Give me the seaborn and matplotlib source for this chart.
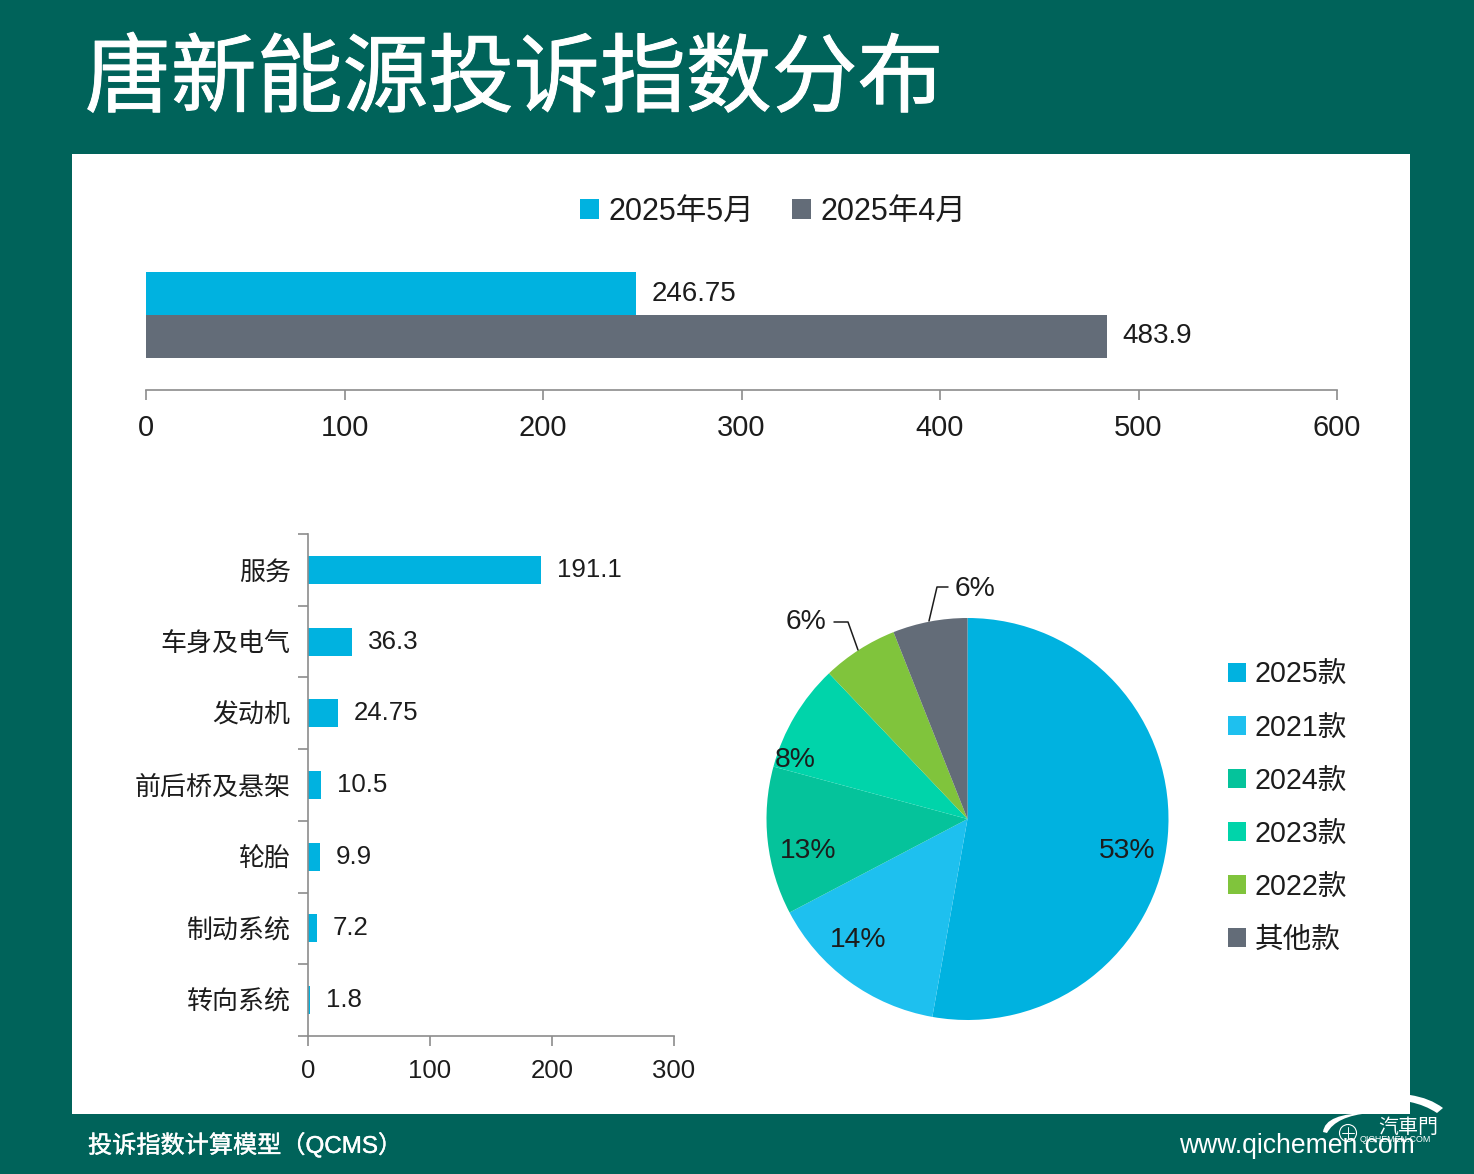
""" Tang NEV complaint index slide."""
import matplotlib.pyplot as plt
import matplotlib.patches as mpatches
import matplotlib.patheffects as pe
from matplotlib.path import Path
import pandas as pd
import seaborn as sns

W, H = 1474, 1174

months = ["2025年5月", "2025年4月"]
month_values = [246.75, 483.9]

parts = ["服务", "车身及电气", "发动机", "前后桥及悬架", "轮胎", "制动系统", "转向系统"]
part_values = [191.1, 36.3, 24.75, 10.5, 9.9, 7.2, 1.8]

models = ["2025款", "2021款", "2024款", "2023款", "2022款", "其他款"]
model_shares = [52.8, 14.5, 11.9, 8.7, 6.1, 6.0]
model_labels = ["53%", "14%", "13%", "8%", "6%", "6%"]

top_ticks = [0, 100, 200, 300, 400, 500, 600]
part_ticks = [0, 100, 200, 300]

BG = "#00635a"
BLUE = "#00b2e0"
GRAY = "#636c78"
INK = "#1c1c1c"
AXIS = "#8c8c8c"
pie_colors = [BLUE, "#1ec0ef", "#05c39b", "#00d4aa", "#80c43c", GRAY]

sns.set_theme(style="white")
plt.rcParams['font.family'] = ['Liberation Sans', 'Noto Sans CJK SC', 'DejaVu Sans']
plt.rcParams['text.color'] = INK


def box(left, top, right, bottom):
    return [left / W, 1 - bottom / H, (right - left) / W, (bottom - top) / H]


def style_axis(ax):
    for s in ["top", "right"]:
        ax.spines[s].set_visible(False)
    for s in ["left", "bottom"]:
        ax.spines[s].set_color(AXIS)
        ax.spines[s].set_linewidth(1.2)
    ax.patch.set_alpha(0)
    ax.set_xlabel("")
    ax.set_ylabel("")


fig = plt.figure(figsize=(W / 100, H / 100), dpi=100, facecolor=BG)

# pixel space layers, back for the panel and front for labels and logo
back = fig.add_axes([0, 0, 1, 1], zorder=0)
front = fig.add_axes([0, 0, 1, 1], zorder=5)
for a in [back, front]:
    a.set_xlim(0, W)
    a.set_ylim(H, 0)
    a.axis("off")
back.add_patch(mpatches.Rectangle((72, 154), 1338, 960, color="white", lw=0))

title = front.text(85, 81, "唐新能源投诉指数分布", color="white", fontsize=61.8,
                   family=['Noto Sans CJK SC'], va="center", ha="left")
title.set_path_effects([pe.withStroke(linewidth=0.7, foreground="white")])

# monthly index
ax1 = fig.add_axes(box(146, 240, 1337, 390), zorder=1)
df_month = pd.DataFrame({"group": ["index", "index"], "month": months, "value": month_values})
sns.barplot(data=df_month, x="value", y="group", hue="month", palette=[BLUE, GRAY],
            saturation=1, width=0.8, legend=False, linewidth=0, ax=ax1)
ax1.set_xlim(0, 600)
ax1.set_ylim(0.698, -0.698)
ax1.set_xticks(top_ticks)
ax1.set_yticks([])
ax1.tick_params(axis="x", bottom=True, length=7.5, width=1.2, color=AXIS, labelsize=20.9, pad=10, labelcolor=INK)
style_axis(ax1)
ax1.spines["left"].set_visible(False)
for c in ax1.containers:
    ax1.bar_label(c, fmt="%g", padding=11.5, fontsize=20, color=INK)

handles = [mpatches.Patch(color=BLUE, lw=0, label=months[0]), mpatches.Patch(color=GRAY, lw=0, label=months[1])]
fig.legend(handles=handles, loc="center", bbox_to_anchor=(773 / W, 1 - 212 / H), ncol=2, frameon=False,
           fontsize=22, handlelength=0.62, handleheight=0.62, handletextpad=0.3, columnspacing=1.25)

# part breakdown
ax2 = fig.add_axes(box(308, 534, 674, 1036), zorder=1)
sns.barplot(x=part_values, y=parts, color=BLUE, saturation=1, width=0.39, linewidth=0, ax=ax2)
ax2.set_xlim(0, 300)
ax2.set_ylim(len(parts) - 0.5, -0.5)
ax2.set_xticks(part_ticks)
ax2.set_yticks([i - 0.5 for i in range(len(parts) + 1)], minor=True)
ax2.tick_params(axis="x", bottom=True, length=7.5, width=1.2, color=AXIS, labelsize=18.5, pad=9, labelcolor=INK)
ax2.tick_params(axis="y", which="major", left=False, labelsize=18.7, pad=6.5, labelcolor=INK)
ax2.tick_params(axis="y", which="minor", left=True, length=7.5, width=1.2, color=AXIS)
style_axis(ax2)
ax2.bar_label(ax2.containers[0], fmt="%g", padding=11.5, fontsize=18.6, color=INK)

# model share pie
ax3 = fig.add_axes(box(766.5, 618, 1168.5, 1020), zorder=1)
wedges, _ = ax3.pie(model_shares, colors=pie_colors, startangle=90, counterclock=False, radius=1,
                    wedgeprops={"linewidth": 0})
ax3.set_xlim(-1, 1)
ax3.set_ylim(-1, 1)
ax3.legend(wedges, models, loc="center left", bbox_to_anchor=((1228 - 766.5) / 402, (1020 - 807) / 402),
           frameon=False, fontsize=20.6, handlelength=0.63, handleheight=0.63, handletextpad=0.3,
           labelspacing=0.875, borderpad=0, borderaxespad=0)

label_pos = [(1127, 851), (858, 940), (808, 851), (795, 760), (806, 622), (975, 589)]
for (x, y), t in zip(label_pos, model_labels):
    front.text(x, y, t, fontsize=20.3, color=INK, ha="center", va="center")
front.plot([858, 848, 834], [650, 622, 622], color=INK, lw=1.1)
front.plot([929, 937, 948], [621, 587, 587], color=INK, lw=1.1)

# footer
foot = front.text(88, 1145, "投诉指数计算模型（QCMS）", color="white", fontsize=17.4,
                  va="center", ha="left")
foot.set_path_effects([pe.withStroke(linewidth=0.3, foreground="white")])
front.text(1415, 1146, "www.qichemen.com", color="white", fontsize=19.1, va="center", ha="right",
           zorder=6)

# logo
left_codes = [Path.MOVETO, Path.CURVE3, Path.CURVE3, Path.CURVE3, Path.CURVE3, Path.CLOSEPOLY]
left_swoosh = [(1323, 1132), (1325, 1113), (1370, 1113), (1336, 1116), (1327, 1133), (1323, 1132)]
right_codes = [Path.MOVETO, Path.CURVE3, Path.CURVE3, Path.LINETO, Path.CURVE3, Path.CURVE3, Path.CLOSEPOLY]
right_swoosh = [(1410, 1095), (1430, 1098), (1443, 1108), (1437, 1113), (1425, 1105), (1410, 1102), (1410, 1095)]
front.add_patch(mpatches.PathPatch(Path(left_swoosh, left_codes), color="white", lw=0))
front.add_patch(mpatches.PathPatch(Path(right_swoosh, right_codes), color="white", lw=0))
front.add_patch(mpatches.Circle((1348, 1133), 8.5, fill=False, ec="white", lw=0.8))
front.plot([1342, 1354], [1133, 1133], color="white", lw=0.7)
front.plot([1348, 1348], [1127, 1139], color="white", lw=0.7)
front.text(1408, 1127, "汽車門", color="white", fontsize=14.4, family=['Noto Sans CJK TC'],
           ha="center", va="center")
front.text(1395, 1140, "QICHEMEN.COM", color="white", fontsize=6.4, ha="center", va="center")

fig.savefig("out.png", dpi=100, facecolor=BG)
